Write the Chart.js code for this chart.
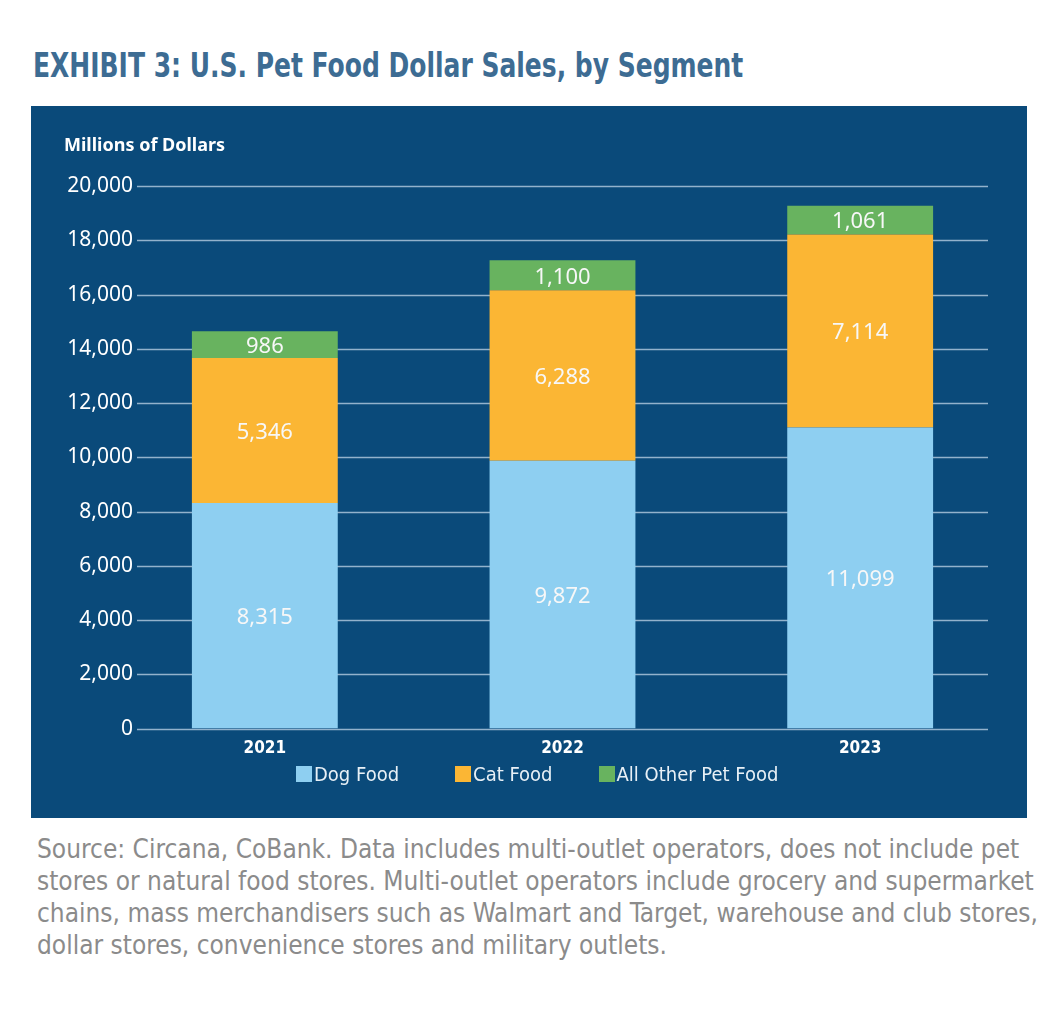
<!DOCTYPE html>
<html>
<head>
<meta charset="utf-8">
<script src="https://cdn.jsdelivr.net/npm/chart.js@4.4.1/dist/chart.umd.min.js"></script>
<style>
  body { margin: 0; background: #fff; width: 1050px; height: 1020px; position: relative; overflow: hidden; }
  #title { position: absolute; left: 33px; top: 45px; font: bold 34px "DejaVu Sans Condensed", sans-serif; color: #3d6c93; white-space: nowrap; transform-origin: 0 0; }
  #panel { position: absolute; left: 31px; top: 106px; width: 996px; height: 712px; background: #0a4a7a; }
  #unit { position: absolute; left: 33px; top: 26px; font: bold 18px "Noto Sans", sans-serif; color: #fff; }
  #legend { position: absolute; top: 656px; left: 265px; display: flex; font: 20px "DejaVu Sans Condensed", sans-serif; color: #e8f0f6; }
  #legend div { display: flex; align-items: center; }
  #legend span.box { width: 16px; height: 16px; margin-right: 2px; }
  #source { position: absolute; left: 37px; top: 833px; font: 26px "DejaVu Sans Condensed", sans-serif; color: #8b8b8b; line-height: 32px; white-space: nowrap; }
</style>
</head>
<body>
<div id="title">EXHIBIT 3: U.S. Pet Food Dollar Sales, by Segment</div>
<div id="panel">
  <canvas id="myChart" width="996" height="712"></canvas>
  <div id="unit">Millions of Dollars</div>
  <div id="legend"></div>
</div>
<div id="source">Source: Circana, CoBank. Data includes multi-outlet operators, does not include pet<br>stores or natural food stores. Multi-outlet operators include grocery and supermarket<br>chains, mass merchandisers such as Walmart and Target, warehouse and club stores,<br>dollar stores, convenience stores and military outlets.</div>
<script>
const years = ['2021', '2022', '2023'];
const dogFood = [8315, 9872, 11099];
const catFood = [5346, 6288, 7114];
const otherFood = [986, 1100, 1061];
const yTicks = [0, 2000, 4000, 6000, 8000, 10000, 12000, 14000, 16000, 18000, 20000];

const seriesNames = ['Dog Food', 'Cat Food', 'All Other Pet Food'];
const seriesColors = ['#8ecff1', '#fbb634', '#68b35f'];

const fmt = v => v.toLocaleString('en-US');

// squeeze the title to the narrow width of the original
const title = document.getElementById('title');
title.style.transform = 'scaleX(' + (710 / title.offsetWidth) + ')';

// gridlines + y labels drawn by hand so they sit where the original has them
const axisPlugin = {
  id: 'axisPlugin',
  beforeDatasetsDraw(chart) {
    const ctx = chart.ctx;
    const y = chart.scales.y;
    const left = chart.chartArea.left;
    ctx.save();
    ctx.strokeStyle = '#93b2cc';
    ctx.lineWidth = 1.5;
    ctx.font = '21px "Noto Sans", sans-serif';
    ctx.fillStyle = '#ffffff';
    ctx.textAlign = 'right';
    ctx.textBaseline = 'middle';
    yTicks.forEach(t => {
      const py = Math.round(y.getPixelForValue(t)) + 0.5;
      ctx.beginPath();
      ctx.moveTo(left + 21, py);
      ctx.lineTo(left + 872, py);
      ctx.stroke();
      ctx.fillText(fmt(t), left + 17, py);
    });
    ctx.restore();
  },
  afterDatasetsDraw(chart) {
    const ctx = chart.ctx;
    ctx.save();
    ctx.font = '22px "Noto Sans", sans-serif';
    ctx.fillStyle = '#f7f7f7';
    ctx.textAlign = 'center';
    ctx.textBaseline = 'middle';
    chart.data.datasets.forEach((ds, i) => {
      chart.getDatasetMeta(i).data.forEach((bar, j) => {
        const p = bar.getProps(['x', 'y', 'base'], true);
        ctx.fillText(fmt(ds.data[j]), p.x, (p.y + p.base) / 2 + 2);
      });
    });
    ctx.restore();
  }
};

const ctx = document.getElementById('myChart');
const myChart = new Chart(ctx, {
  type: 'bar',
  data: {
    labels: years,
    datasets: [dogFood, catFood, otherFood].map((d, i) => ({
      label: seriesNames[i],
      data: d,
      backgroundColor: seriesColors[i],
      borderWidth: 0,
      barPercentage: 0.49,
      categoryPercentage: 1
    }))
  },
  options: {
    responsive: false,
    animation: false,
    layout: { padding: { left: 85, right: 18, top: 80, bottom: 57 } },
    plugins: {
      legend: { display: false },
      tooltip: { enabled: false }
    },
    scales: {
      x: {
        stacked: true,
        grid: { display: false },
        border: { display: false },
        ticks: {
          color: '#ffffff',
          padding: 2,
          font: { family: '"DejaVu Sans Condensed", sans-serif', size: 17, weight: 'bold' }
        }
      },
      y: {
        stacked: true,
        display: false,
        min: 0,
        max: 20000
      }
    }
  },
  plugins: [axisPlugin]
});

const legend = document.getElementById('legend');
seriesNames.forEach((name, i) => {
  const item = document.createElement('div');
  item.style.marginRight = ['56px', '46px', '0'][i];
  item.innerHTML = '<span class="box" style="background:' + seriesColors[i] + '"></span>' + name;
  legend.appendChild(item);
});
</script>
</body>
</html>
